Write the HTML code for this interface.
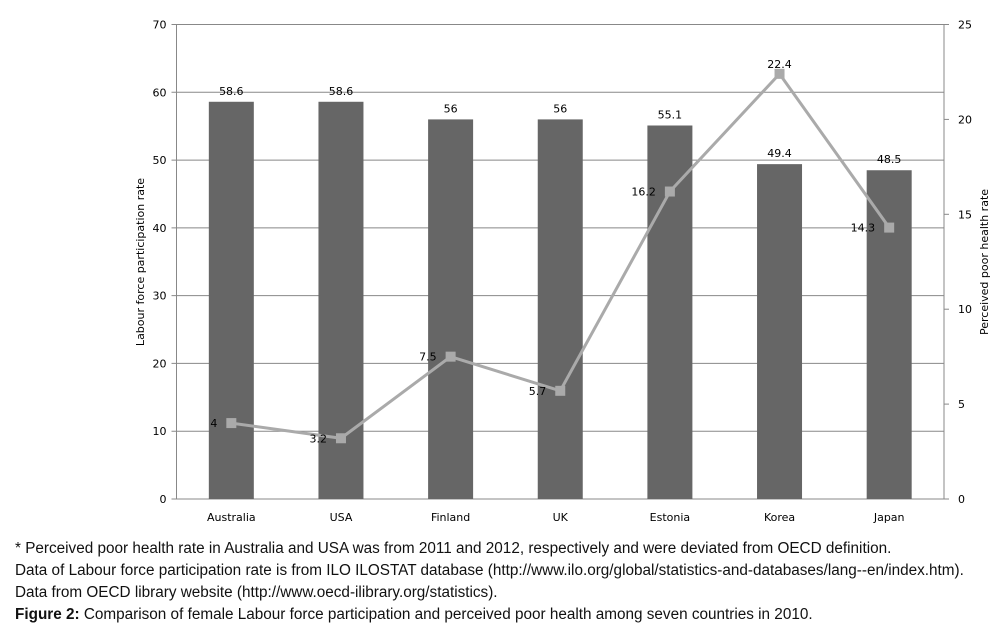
<!DOCTYPE html>
<html><head><meta charset="utf-8">
<style>
body{margin:0;background:#fff;width:1001px;height:635px;overflow:hidden;font-family:"Liberation Sans",Arial,sans-serif;}
.note{position:absolute;left:15px;font-size:15.3px;color:#111;white-space:nowrap;}
</style></head><body>
<svg id="chart" width="1001" height="530" style="position:absolute;left:0;top:0" font-family="DejaVu Sans, Liberation Sans, sans-serif"></svg>
<div class="note" style="top:540px">* Perceived poor health rate in Australia and USA was from 2011 and 2012, respectively and were deviated from OECD definition.</div>
<div class="note" style="top:562px">Data of Labour force participation rate is from ILO ILOSTAT database (http://www.ilo.org/global/statistics-and-databases/lang--en/index.htm).</div>
<div class="note" style="top:584px">Data from OECD library website (http://www.oecd-ilibrary.org/statistics).</div>
<div class="note" style="top:606px"><b>Figure 2:</b> Comparison of female Labour force participation and perceived poor health among seven countries in 2010.</div>
<script>
const categories=["Australia","USA","Finland","UK","Estonia","Korea","Japan"];
const laborValues=[58.6,58.6,56,56,55.1,49.4,48.5];
const healthValues=[4,3.2,7.5,5.7,16.2,22.4,14.3];
const leftTicks=[0,10,20,30,40,50,60,70];
const rightTicks=[0,5,10,15,20,25];
const svg=document.getElementById('chart');
const NS='http://www.w3.org/2000/svg';
const X0=176.5,X1=944,Y0=499,Y1=24.5;
const yL=v=>Y0-(v/70)*(Y0-Y1);
const yR=v=>Y0-(v/25)*(Y0-Y1);
const bw=(X1-X0)/categories.length;
const xC=i=>X0+bw*(i+0.5);
function mk(t,a,txt){const e=document.createElementNS(NS,t);for(const k in a)e.setAttribute(k,a[k]);if(txt!=null)e.textContent=txt;svg.appendChild(e);return e;}
leftTicks.forEach(v=>{
  const g=mk('line',{x1:X0-5,x2:X1,y1:yL(v),y2:yL(v),stroke:'#888','stroke-width':1});
  
  
  const t=mk('text',{x:X0-10,y:yL(v)+4,'text-anchor':'end','font-size':11,fill:'#000'},v);
  
  
});
rightTicks.forEach(v=>{
  mk('line',{x1:X1,x2:X1+5,y1:yR(v),y2:yR(v),stroke:'#888'});
  const t=mk('text',{x:X1+14,y:yR(v)+4,'text-anchor':'start','font-size':11,fill:'#000'},v);
  
  
});
mk('line',{x1:X0,x2:X0,y1:Y1,y2:Y0,stroke:'#888'});
mk('line',{x1:X1,x2:X1,y1:Y1,y2:Y0,stroke:'#888'});
categories.forEach((c,i)=>{
  const b=mk('rect',{x:xC(i)-22.5,y:yL(laborValues[i]),width:45,height:Y0-yL(laborValues[i]),fill:'#666'});
  
  
  const l=mk('text',{x:xC(i),y:yL(laborValues[i])-7,'text-anchor':'middle','font-size':11},laborValues[i]);
  
  
  const t=mk('text',{x:xC(i),y:521,'text-anchor':'middle','font-size':11},c);
  
  
});
const pl=mk('polyline',{points:healthValues.map((v,i)=>xC(i)+','+yR(v)).join(' '),fill:'none',stroke:'#aaa','stroke-width':3});


healthValues.forEach((v,i)=>{
  const m=mk('rect',{x:xC(i)-5,y:yR(v)-5,width:10,height:10,fill:'#aaa'});
  
  
  const t=mk('text',{x:xC(i)-(i===5?0:14),y:i===5?yR(v)-6:yR(v)+4,'text-anchor':i===5?'middle':'end','font-size':11},v);
  
  
});
const ya=mk('text',{x:0,y:0,'font-size':11,'text-anchor':'middle',transform:'translate(144,262) rotate(-90)'},'Labour force participation rate');


const yb=mk('text',{x:0,y:0,'font-size':11,'text-anchor':'middle',transform:'translate(988,262) rotate(-90)'},'Perceived poor health rate');


</script>
</body></html>
